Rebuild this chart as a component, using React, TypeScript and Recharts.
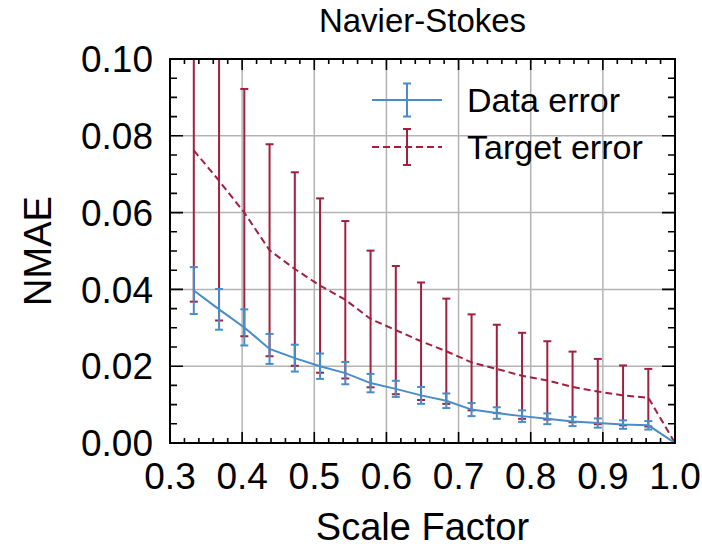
import {
  LineChart,
  Line,
  XAxis,
  YAxis,
  CartesianGrid,
  ErrorBar,
  Legend,
  Label,
} from "recharts";

// scale factors along the x axis
const scaleFactors = [
  0.333, 0.368, 0.403, 0.438, 0.473, 0.508, 0.543, 0.578, 0.613, 0.648,
  0.683, 0.718, 0.753, 0.788, 0.823, 0.858, 0.893, 0.928, 0.963, 1.0,
];

// data error (mean and std)
const dataErrMean = [
  0.0397, 0.0348, 0.0301, 0.0245, 0.0221, 0.02, 0.0182, 0.0156, 0.0141, 0.0124,
  0.011, 0.0087, 0.0078, 0.007, 0.0063, 0.0056, 0.0052, 0.0048, 0.0046, 0.0,
];
const dataErrStd = [
  0.0061, 0.0053, 0.0047, 0.0039, 0.0035, 0.0033, 0.0029, 0.0024, 0.0021, 0.0022,
  0.0019, 0.0017, 0.0015, 0.0015, 0.0014, 0.0012, 0.0012, 0.0011, 0.0011, null,
];

// target error (mean and std)
const targetErrMean = [
  0.0762, 0.0683, 0.06, 0.0502, 0.0453, 0.041, 0.0373, 0.0323, 0.0294, 0.0265,
  0.0239, 0.021, 0.0193, 0.0175, 0.0163, 0.0146, 0.0134, 0.0124, 0.0118, 0.0,
];
const targetErrStd = [
  0.0394, 0.0364, 0.0322, 0.0276, 0.0252, 0.0227, 0.0205, 0.0178, 0.0167, 0.0153,
  0.0137, 0.0125, 0.0115, 0.0112, 0.0102, 0.0092, 0.0085, 0.0078, 0.0075, null,
];

const xMajor = [0.3, 0.4, 0.5, 0.6, 0.7, 0.8, 0.9, 1.0];
const xMinor = [
  0.32, 0.34, 0.36, 0.38, 0.42, 0.44, 0.46, 0.48, 0.52, 0.54, 0.56, 0.58,
  0.62, 0.64, 0.66, 0.68, 0.72, 0.74, 0.76, 0.78, 0.82, 0.84, 0.86, 0.88,
  0.92, 0.94, 0.96, 0.98,
];
const yMajor = [0, 0.02, 0.04, 0.06, 0.08, 0.1];
const yMinor = [
  0.005, 0.01, 0.015, 0.025, 0.03, 0.035, 0.045, 0.05, 0.055, 0.065, 0.07,
  0.075, 0.085, 0.09, 0.095,
];
// interior grid lines; the box edges are drawn as the frame
const xGrid = [0.4, 0.5, 0.6, 0.7, 0.8, 0.9];
const yGrid = [0.02, 0.04, 0.06, 0.08];

const data = scaleFactors.map((s, i) => ({
  scale: s,
  dataErr: dataErrMean[i],
  dataStd: dataErrStd[i],
  targetErr: targetErrMean[i],
  targetStd: targetErrStd[i],
}));

const BLUE = "#4a8cc7";
const RED = "#a31f3e";
const FONT = "'Liberation Sans', Arial, sans-serif";
const X_DOMAIN: [number, number] = [0.3, 1.0];
const Y_DOMAIN: [number, number] = [0, 0.1];

// layout
const CHART_W = 702;
const CHART_H = 549;
const LEFT_W = 170;
const RIGHT_W = 27;
const TOP_H = 59;
const BOTTOM_H = 100;
const PLOT_W = CHART_W - LEFT_W - RIGHT_W;

const noLabel = () => <g />;

// error bars are cut at the top of the axes box
const clippedErr = (meanKey: string, stdKey: string) => (d: any) => {
  const std = d[stdKey];
  if (std == null) return null;
  const m = d[meanKey];
  return [std, Math.min(std, Y_DOMAIN[1] - m)];
};

// y ticks: a grid line dashed so only its two ends show
const edgeDash = (len: number) => `${len} ${PLOT_W - 2 * len} ${len} 0`;

// inward x ticks at bottom and top; the first line also draws the box frame
const xTickMarks = (len: number, withFrame: boolean) => (p: any) => (
  <g key={p.key}>
    <line x1={p.x1} x2={p.x1} y1={p.y2} y2={p.y2 - len} stroke="#000" strokeWidth={1.6} />
    <line x1={p.x1} x2={p.x1} y1={p.y1} y2={p.y1 + len} stroke="#000" strokeWidth={1.6} />
    {withFrame && !p.index && (
      <rect
        x={typeof p.x === "number" ? p.x : LEFT_W}
        y={p.y1}
        width={typeof p.width === "number" ? p.width : PLOT_W}
        height={p.y2 - p.y1}
        fill="none"
        stroke="#000"
        strokeWidth={2}
      />
    )}
  </g>
);

function LegendBox() {
  const rows = [
    { label: "Data error", color: BLUE, dash: undefined, y: 30, half: 16.5 },
    { label: "Target error", color: RED, dash: "7 4", y: 77, half: 18 },
  ];
  return (
    <svg width={320} height={110} style={{ display: "block" }}>
      {rows.map((r) => (
        <g key={r.label}>
          <line x1={12} x2={82} y1={r.y} y2={r.y} stroke={r.color} strokeWidth={2} strokeDasharray={r.dash} />
          <line x1={47} x2={47} y1={r.y - r.half} y2={r.y + r.half} stroke={r.color} strokeWidth={2} />
          <line x1={43} x2={51} y1={r.y - r.half} y2={r.y - r.half} stroke={r.color} strokeWidth={2} />
          <line x1={43} x2={51} y1={r.y + r.half} y2={r.y + r.half} stroke={r.color} strokeWidth={2} />
          <text x={107} y={r.y + 12} fontSize={34} fontFamily={FONT} fill="#000">
            {r.label}
          </text>
        </g>
      ))}
    </svg>
  );
}

// invisible axes that only supply tick positions for the grids
function helperXAxis(id: string, ticks: number[]) {
  return (
    <XAxis
      key={id}
      xAxisId={id}
      dataKey="scale"
      orientation="bottom"
      mirror
      type="number"
      domain={X_DOMAIN}
      allowDataOverflow
      ticks={ticks}
      interval={0}
      height={0.001}
      tick={noLabel}
      tickLine={false}
      axisLine={false}
    />
  );
}

function helperYAxis(id: string, ticks: number[]) {
  return (
    <YAxis
      key={id}
      yAxisId={id}
      orientation="left"
      mirror
      type="number"
      domain={Y_DOMAIN}
      allowDataOverflow
      ticks={ticks}
      interval={0}
      width={1}
      tick={noLabel}
      tickLine={false}
      axisLine={false}
    />
  );
}

export default function App() {
  return (
    <div style={{ position: "absolute", left: 0, top: 0, width: CHART_W, height: CHART_H, background: "#fff" }}>
      <LineChart width={CHART_W} height={CHART_H} data={data} margin={{ top: 0, right: 0, bottom: 6, left: 0 }}>
        <CartesianGrid xAxisId="gx" yAxisId="gy" stroke="#b3b3b3" strokeWidth={1.5} fill="none" />

        {/* inward y ticks on both sides */}
        <CartesianGrid
          xAxisId="gx"
          yAxisId="gy"
          vertical={false}
          stroke="#000"
          strokeWidth={1.6}
          strokeDasharray={edgeDash(13)}
          fill="none"
        />
        <CartesianGrid
          xAxisId="gx"
          yAxisId="ny"
          vertical={false}
          stroke="#000"
          strokeWidth={1.6}
          strokeDasharray={edgeDash(7)}
          fill="none"
        />

        <Line
          dataKey="targetErr"
          stroke={RED}
          strokeWidth={2}
          strokeDasharray="7 4"
          dot={false}
          activeDot={false}
          isAnimationActive={false}
        >
          <ErrorBar dataKey={clippedErr("targetErr", "targetStd")} direction="y" width={4} stroke={RED} strokeWidth={2} />
        </Line>
        <Line
          dataKey="dataErr"
          stroke={BLUE}
          strokeWidth={2}
          dot={false}
          activeDot={false}
          isAnimationActive={false}
        >
          <ErrorBar dataKey={clippedErr("dataErr", "dataStd")} direction="y" width={4} stroke={BLUE} strokeWidth={2} />
        </Line>

        {/* inward x ticks and the black frame */}
        <CartesianGrid xAxisId="mx" yAxisId="gy" fill="none" horizontal={false} vertical={xTickMarks(11, true)} zIndex={1000} />
        <CartesianGrid xAxisId="nx" yAxisId="gy" fill="none" horizontal={false} vertical={xTickMarks(5, false)} zIndex={1000} />

        {/* labelled bottom axis */}
        <XAxis
          dataKey="scale"
          type="number"
          domain={X_DOMAIN}
          allowDataOverflow
          ticks={xMajor}
          interval={0}
          height={BOTTOM_H}
          tickSize={0}
          tickMargin={20}
          tickLine={false}
          axisLine={false}
          tick={{ fill: "#000", fontSize: 37, fontFamily: FONT }}
          tickFormatter={(v: number) => v.toFixed(1)}
        >
          <Label
            value="Scale Factor"
            position="insideBottom"
            offset={3}
            style={{ fontSize: 38, fill: "#000", fontFamily: FONT }}
          />
        </XAxis>
        {/* title above the box */}
        <XAxis
          xAxisId="top"
          dataKey="scale"
          orientation="top"
          type="number"
          domain={X_DOMAIN}
          allowDataOverflow
          ticks={xMajor}
          height={TOP_H}
          tick={noLabel}
          tickLine={false}
          axisLine={false}
        >
          <Label
            value="Navier-Stokes"
            position="insideTop"
            offset={9}
            style={{ fontSize: 33, fill: "#000", fontFamily: FONT }}
          />
        </XAxis>
        {helperXAxis("gx", xGrid)}
        {helperXAxis("mx", xMajor)}
        {helperXAxis("nx", xMinor)}

        {/* labelled left axis */}
        <YAxis
          type="number"
          domain={Y_DOMAIN}
          allowDataOverflow
          ticks={yMajor}
          interval={0}
          width={LEFT_W}
          tickSize={0}
          tickMargin={17}
          tickLine={false}
          axisLine={false}
          tick={{ fill: "#000", fontSize: 37, fontFamily: FONT }}
          tickFormatter={(v: number) => v.toFixed(2)}
        >
          <Label
            value="NMAE"
            angle={-90}
            position="insideLeft"
            offset={38}
            style={{ fontSize: 38, fill: "#000", fontFamily: FONT, textAnchor: "middle" }}
          />
        </YAxis>
        {/* space right of the box */}
        <YAxis
          yAxisId="right"
          orientation="right"
          type="number"
          domain={Y_DOMAIN}
          allowDataOverflow
          ticks={yMajor}
          width={RIGHT_W}
          tick={noLabel}
          tickLine={false}
          axisLine={false}
        />
        {helperYAxis("gy", yGrid)}
        {helperYAxis("ny", yMinor)}

        <Legend
          layout="vertical"
          align="center"
          verticalAlign="middle"
          wrapperStyle={{ top: 70, left: 360, width: 320 }}
          content={() => <LegendBox />}
        />
      </LineChart>
    </div>
  );
}
